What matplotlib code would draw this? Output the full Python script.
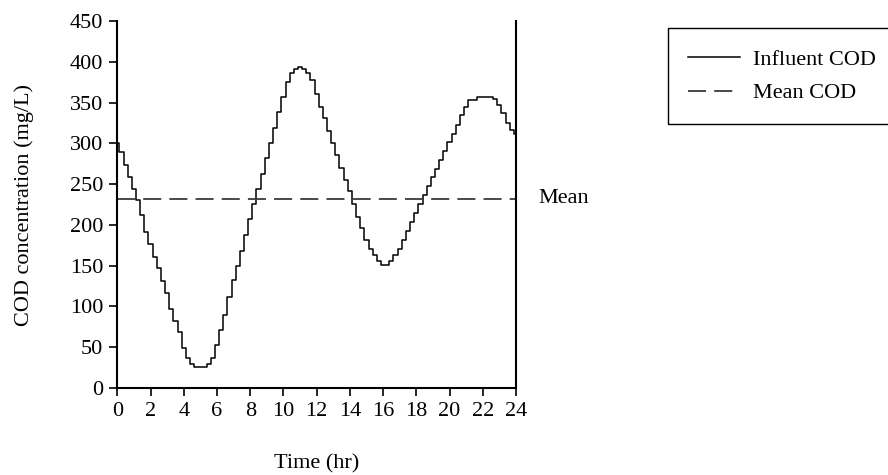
import numpy as np
import matplotlib
matplotlib.use("Agg")
import matplotlib.pyplot as plt
from matplotlib.patches import Rectangle

# influent COD, one value every 15 min (0 .. 24 hr)
step_hr = 0.25
influent_cod = [
    300, 289, 274, 259, 244, 230, 212, 191, 176, 161,
    147, 131, 116, 97, 82, 69, 49, 37, 30, 26,
    26, 26, 30, 37, 53, 71, 90, 112, 132, 150,
    168, 188, 207, 226, 244, 262, 282, 300, 319, 338,
    357, 375, 386, 391, 394, 391, 386, 378, 361, 345,
    331, 315, 300, 286, 270, 255, 241, 226, 210, 196,
    181, 171, 163, 156, 151, 151, 156, 163, 171, 181,
    192, 203, 214, 226, 237, 248, 259, 269, 280, 291,
    302, 312, 323, 335, 345, 353, 353, 357, 357, 357,
    357, 354, 347, 337, 325, 316, 312,
]
mean_cod = 232
hours = np.arange(len(influent_cod)) * step_hr

x_ticks = list(range(0, 25, 2))
y_ticks = list(range(0, 451, 50))

plt.rcParams['font.family'] = ['Liberation Serif', 'DejaVu Serif']
fs = 16

fig = plt.figure(figsize=(8.88, 4.75), dpi=100)
ax = fig.add_axes([117.3 / 888, 1 - 388 / 475, (516 - 117.3) / 888, (388 - 21) / 475])

ax.plot(hours, influent_cod, drawstyle='steps-mid', color='black', lw=1.1,
        label='Influent COD')
ax.plot([hours[0], hours[-1]], [mean_cod, mean_cod], color='#3a3a3a', lw=1.3,
        dashes=(10, 4.5), label='Mean COD')

ax.set_xlim(0, 24)
ax.set_ylim(0, 450)
ax.set_xticks(x_ticks)
ax.set_yticks(y_ticks)
ax.tick_params(direction='out', length=6, width=1.2, labelsize=fs, pad=4)
ax.spines['top'].set_visible(False)
for s in ['left', 'bottom', 'right']:
    ax.spines[s].set_linewidth(1.5)
ax.yaxis.set_ticks_position('left')

ax.set_xlabel('Time (hr)', fontsize=fs, labelpad=24)
ax.set_ylabel('COD concentration (mg/L)', fontsize=fs, labelpad=26)

ax.text(1.055, mean_cod, 'Mean', transform=ax.get_yaxis_transform(),
        fontsize=fs, va='center', ha='left')

# legend box, runs off the right edge
fig.patches.append(Rectangle((668 / 888, 1 - 124 / 475), 0.3, 96 / 475,
                             transform=fig.transFigure, fill=False,
                             edgecolor='black', lw=1.0))
fig.legend(loc='upper left', bbox_to_anchor=(688 / 888, 1 - 49 / 475),
           frameon=False, fontsize=fs, borderpad=0, borderaxespad=0,
           handlelength=2.34, handletextpad=0.59, labelspacing=0.6)

fig.savefig('out.png', dpi=100)
